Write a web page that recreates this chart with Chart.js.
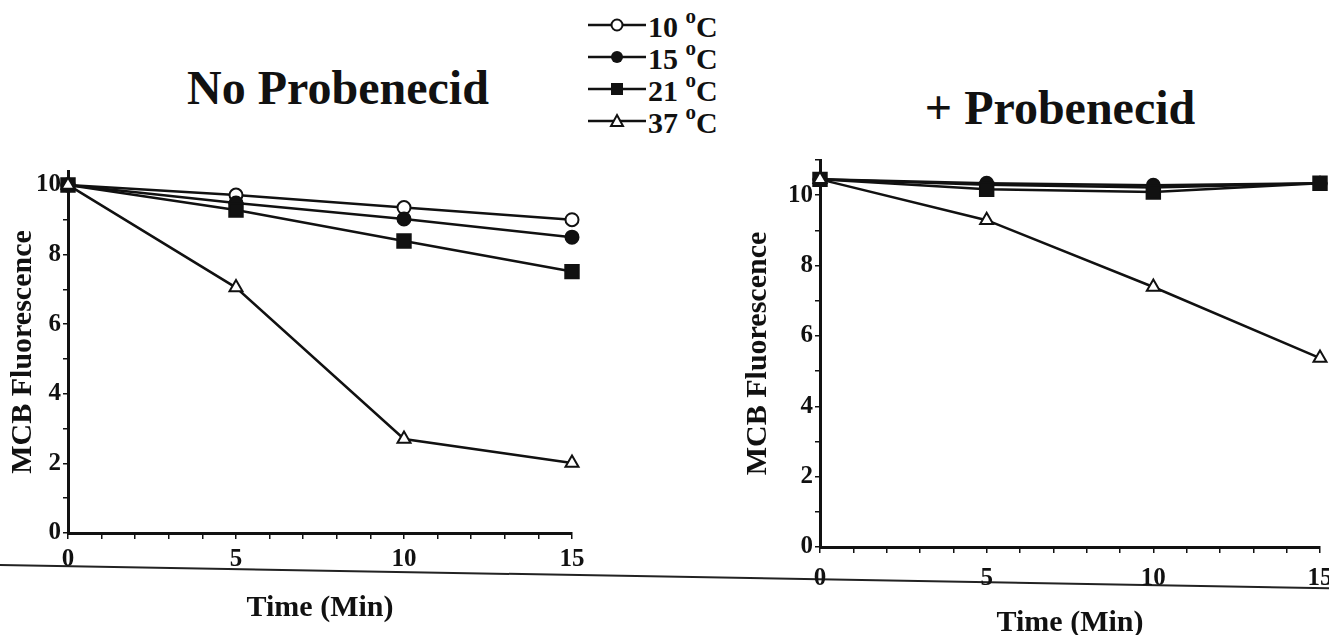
<!DOCTYPE html>
<html>
<head>
<meta charset="utf-8">
<script src="https://cdn.jsdelivr.net/npm/chart.js@4.4.1/dist/chart.umd.min.js"></script>
<style>
  body { margin: 0; width: 1329px; height: 635px; overflow: hidden; position: relative; background: #fff; font-family: "Liberation Serif", "Times New Roman", serif; color: #111; }
  canvas { position: absolute; }
  #left { left: 5px; top: 150px; }
  #right { left: 740px; top: 140px; }
  .title { position: absolute; font-size: 48px; font-weight: bold; white-space: nowrap; transform: translateX(-50%); line-height: 1; }
  #legend { position: absolute; left: 588px; top: 9px; font-size: 30px; font-weight: bold; }
  .row { display: flex; align-items: center; height: 32px; }
  .row svg { margin-right: 2px; }
  .row sup { font-size: 21px; position: relative; top: -3px; }
  .page { position: absolute; left: 0; top: 564px; width: 1360px; height: 2px; background: #222; transform-origin: 0 0; transform: rotate(1deg); }
</style>
</head>
<body>
<div class="page"></div>
<div class="title" style="left:338px; top:64px;">No Probenecid</div>
<div class="title" style="left:1060px; top:84px;">+ Probenecid</div>
<div id="legend"></div>
<canvas id="left" width="592" height="480"></canvas>
<canvas id="right" width="610" height="505"></canvas>
<script>
// time points (min)
var times = [0, 5, 10, 15];
var temps = ['10', '15', '21', '37'];
var xTickValues = [0, 1, 2, 3, 4, 5, 6, 7, 8, 9, 10, 11, 12, 13, 14, 15];
var yTickValuesLeft = [0, 1, 2, 3, 4, 5, 6, 7, 8, 9, 10];
var yTickValuesRight = [0, 1, 2, 3, 4, 5, 6, 7, 8, 9, 10, 11];

// No Probenecid
var noProb10 = [10, 9.71, 9.35, 9.0];
var noProb15 = [10, 9.48, 9.02, 8.5];
var noProb21 = [10, 9.28, 8.39, 7.51];
var noProb37 = [10, 7.05, 2.70, 2.01];

// + Probenecid
var prob10 = [10.45, 10.3, 10.22, 10.34];
var prob15 = [10.45, 10.34, 10.28, 10.34];
var prob21 = [10.45, 10.17, 10.09, 10.34];
var prob37 = [10.45, 9.29, 7.39, 5.37];

var serif = '"Liberation Serif", "Times New Roman", serif';
var ink = '#111';
var shapes = ['circle', 'circle', 'rect', 'triangle'];
var fills = ['#fff', ink, ink, '#fff'];
var radii = [6.5, 6.5, 9.5, 7.5];

// legend (shared by both panels)
var svgs = [
  '<circle cx="29" cy="9" r="5.5" fill="#fff" stroke="#111" stroke-width="2"/>',
  '<circle cx="29" cy="9" r="6" fill="#111"/>',
  '<rect x="23" y="3" width="12" height="12" fill="#111"/>',
  '<polygon points="29,3 35,14 23,14" fill="#fff" stroke="#111" stroke-width="2"/>'
];
document.getElementById('legend').innerHTML = temps.map(function (t, i) {
  return '<div class="row"><svg width="58" height="18"><line x1="0" y1="9" x2="58" y2="9" stroke="#111" stroke-width="2.5"/>' +
    svgs[i] + '</svg><span>' + t + '&nbsp;<sup>o</sup>C</span></div>';
}).join('');

function toTicks(list) {
  return list.map(function (v) { return { value: v }; });
}

function panel(id, series, yMax, yTicks, yWidth, xHeight, tickPad, padTop, padRight) {
  var datasets = series.map(function (vals, i) {
    return {
      label: temps[i] + ' oC',
      data: times.map(function (t, j) { return { x: t, y: vals[j] }; }),
      order: series.length - i,
      borderColor: ink,
      borderWidth: 2.5,
      pointStyle: shapes[i],
      pointRadius: radii[i],
      pointBackgroundColor: fills[i],
      pointBorderColor: ink,
      pointBorderWidth: 2,
      clip: false
    };
  });
  var tickFont = { family: serif, size: 25, weight: 'bold' };
  var titleFont = { family: serif, size: 30, weight: 'bold' };
  return new Chart(document.getElementById(id), {
    type: 'line',
    data: { datasets: datasets },
    options: {
      responsive: false,
      animation: false,
      layout: { padding: { top: padTop, right: padRight, left: 0, bottom: 0 } },
      plugins: { legend: { display: false }, tooltip: { enabled: false } },
      scales: {
        x: {
          type: 'linear', min: 0, max: 15,
          afterBuildTicks: function (s) { s.ticks = toTicks(xTickValues); },
          afterFit: function (s) { s.height = xHeight; },
          ticks: {
            autoSkip: false, maxRotation: 0, padding: tickPad, color: ink, font: tickFont,
            callback: function (v) { return v % 5 === 0 ? v : ''; }
          },
          grid: { drawOnChartArea: false, tickLength: 6, color: ink, lineWidth: 1.5 },
          border: { color: ink, width: 3 },
          title: { display: true, text: 'Time (Min)', color: ink, font: titleFont, padding: { top: 0, bottom: 4 } }
        },
        y: {
          min: 0, max: yMax,
          afterBuildTicks: function (s) { s.ticks = toTicks(yTicks); },
          afterFit: function (s) { s.width = yWidth; },
          ticks: {
            autoSkip: false, padding: 2, color: ink, font: tickFont,
            callback: function (v) { return v % 2 === 0 ? v : ''; }
          },
          grid: { drawOnChartArea: false, tickLength: 5, color: ink, lineWidth: 1.5 },
          border: { color: ink, width: 3 },
          title: { display: true, text: 'MCB Fluorescence', color: ink, font: titleFont, padding: 0 }
        }
      }
    }
  });
}

panel('left', [noProb10, noProb15, noProb21, noProb37], 10.4, yTickValuesLeft, 63, 97, 6, 21, 25);
panel('right', [prob10, prob15, prob21, prob37], 11, yTickValuesRight, 80, 98, 11, 20, 30);
</script>
</body>
</html>
